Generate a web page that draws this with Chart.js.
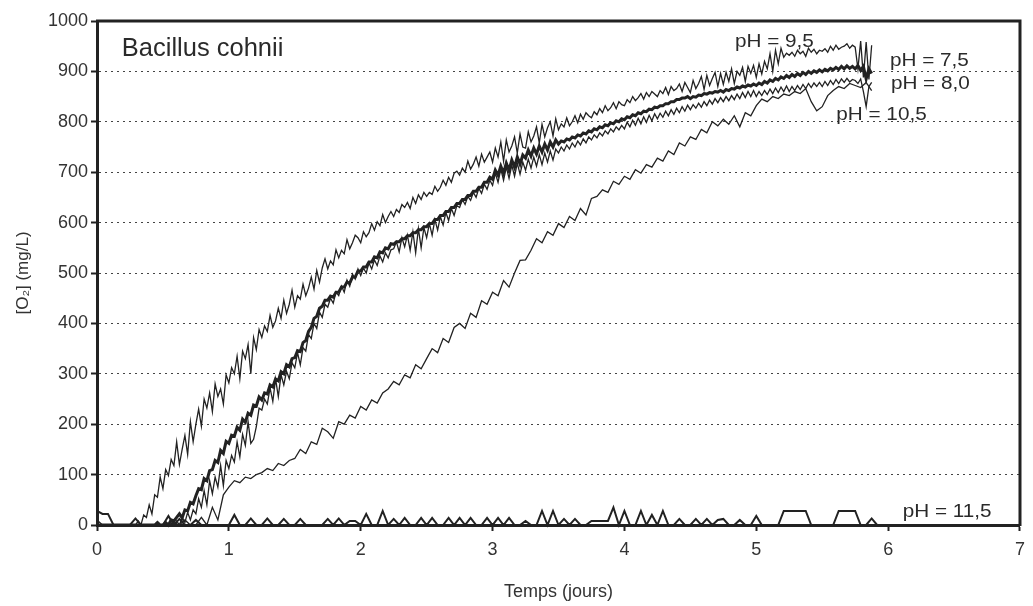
<!DOCTYPE html>
<html>
<head>
<meta charset="utf-8">
<script src="https://cdn.jsdelivr.net/npm/chart.js@4.4.1/dist/chart.umd.min.js"></script>
<style>
  html, body { margin: 0; padding: 0; background: #fff; }
  canvas { display: block; }
</style>
</head>
<body>
<canvas id="o2Chart" width="1033" height="606"></canvas>
<script>
// O2 production of Bacillus cohnii at several pH values.
// Samples: pH 7,5 / 8,0 / 9,5 every 30 min, pH 10,5 / 11,5 every hour.

const X_TICKS = [0, 1, 2, 3, 4, 5, 6, 7];
const Y_TICKS = [0, 100, 200, 300, 400, 500, 600, 700, 800, 900, 1000];

const HALF_HOUR = 1 / 48;   // days
const ONE_HOUR = 1 / 24;

const PH_95 = [
  10, 5, 0, 0, 0, 0, 0, 0, 0, 0, 0, 0,
  0, 0, 0, 8, 0, 20, 15, 40, 22, 60, 55, 95,
  72, 110, 98, 130, 118, 165, 120, 150, 178, 140, 205, 165,
  200, 230, 196, 250, 232, 262, 225, 280, 255, 270, 240, 298,
  282, 312, 300, 335, 290, 345, 330, 358, 300, 372, 348, 388,
  372, 395, 384, 416, 392, 405, 430, 410, 446, 420, 438, 466,
  432, 455, 448, 478, 455, 470, 492, 468, 505, 482, 510, 528,
  508, 524, 516, 546, 530, 545, 538, 566, 548, 560, 575, 570,
  560, 582, 572, 580, 598, 585, 602, 594, 616, 600, 612, 622,
  612, 626, 620, 636, 630, 640, 628, 650, 638, 655, 646, 660,
  652, 660, 656, 672, 662, 670, 684, 674, 690, 680, 698, 702,
  694, 708, 700, 722, 706, 716, 730, 712, 736, 720, 730, 740,
  720, 748, 730, 760, 722, 764, 740, 752, 770, 738, 776, 750,
  748, 780, 760, 772, 790, 758, 795, 770, 788, 800, 772, 806,
  784, 796, 790, 808, 792, 800, 812, 798, 815, 805, 818, 812,
  808, 820, 814, 826, 818, 832, 822, 828, 838, 826, 840, 834,
  832, 844, 838, 850, 842, 848, 856, 845, 858, 850, 860, 855,
  850, 862, 856, 868, 854, 870, 862, 866, 875, 860, 878, 868,
  858, 882, 866, 876, 890, 864, 892, 872, 886, 898, 870, 896,
  874, 898, 880, 905, 876, 900, 892, 908, 880, 910, 896, 912,
  888, 915, 895, 920, 905, 935, 900, 942, 915, 946, 928, 936,
  932, 938, 930, 942, 935, 940, 930, 946, 938, 944, 935, 942,
  940, 945, 938, 950, 942, 952, 944, 948, 950, 955, 946, 952,
  948, 905, 960, 888, 958, 884, 952
];

const PH_75 = [
  0, 0, 0, 0, 0, 0, 0, 0, 0, 0, 0, 0,
  0, 0, 0, 0, 0, 0, 0, 0, 0, 0, 5, 0,
  0, 5, 0, 10, 8, 15, 22, 14, 30, 28, 45, 42,
  58, 72, 70, 92, 88, 108, 110, 128, 124, 148, 142, 166,
  162, 178, 176, 194, 188, 210, 204, 222, 218, 238, 236, 254,
  248, 262, 260, 278, 274, 290, 286, 304, 300, 318, 314, 330,
  332, 346, 344, 362, 366, 384, 392, 410, 414, 430, 434, 446,
  446, 454, 452, 462, 462, 472, 472, 482, 480, 492, 492, 504,
  504, 512, 512, 522, 522, 532, 530, 542, 540, 550, 548, 558,
  557, 562, 562, 568, 568, 574, 574, 580, 580, 586, 586, 592,
  592, 598, 598, 606, 606, 614, 614, 622, 622, 630, 630, 638,
  638, 646, 646, 654, 654, 662, 662, 670, 670, 680, 680, 690,
  686, 704, 694, 712, 698, 718, 704, 724, 710, 730, 716, 734,
  728, 744, 732, 748, 736, 752, 740, 756, 744, 760, 750, 764,
  756, 762, 760, 766, 764, 770, 768, 774, 772, 778, 776, 782,
  780, 786, 784, 790, 788, 794, 792, 798, 796, 802, 800, 806,
  804, 810, 808, 814, 812, 818, 816, 821, 820, 825, 824, 829,
  828, 832, 832, 836, 836, 840, 840, 844, 844, 847, 847, 850,
  846, 850, 849, 853, 852, 856, 855, 858, 857, 860, 859, 862,
  859, 864, 862, 866, 865, 869, 867, 871, 869, 873, 871, 875,
  872, 877, 874, 880, 877, 883, 880, 886, 883, 889, 886, 892,
  888, 894, 890, 896, 892, 898, 894, 900, 896, 901, 898, 903,
  899, 904, 901, 906, 903, 908, 904, 910, 905, 911, 906, 910,
  905, 912, 902, 910, 885, 905, 896
];

const PH_80 = [
  0, 0, 0, 0, 0, 0, 0, 0, 0, 0, 0, 0,
  0, 0, 0, 0, 0, 0, 0, 0, 0, 0, 0, 0,
  0, 0, 0, 0, 0, 8, 0, 15, 5, 25, 10, 30,
  22, 52, 35, 68, 40, 88, 62, 95, 75, 118, 78, 128,
  112, 138, 125, 165, 135, 180, 158, 205, 162, 170, 195, 232,
  228, 250, 240, 272, 245, 290, 255, 298, 278, 305, 290, 322,
  312, 342, 318, 352, 345, 378, 370, 400, 390, 422, 412, 438,
  432, 450, 440, 462, 455, 474, 462, 486, 474, 498, 488, 508,
  495, 510, 500, 520, 508, 526, 515, 534, 522, 540, 530, 546,
  548, 562, 542, 570, 552, 575, 545, 582, 540, 588, 550, 590,
  570, 598, 575, 606, 585, 612, 595, 620, 604, 628, 614, 634,
  630, 646, 636, 652, 644, 660, 650, 668, 658, 676, 666, 684,
  674, 698, 680, 706, 684, 710, 688, 714, 692, 718, 696, 720,
  704, 726, 708, 730, 712, 735, 715, 738, 720, 742, 724, 746,
  738, 750, 742, 754, 746, 758, 750, 762, 754, 766, 758, 770,
  764, 774, 768, 778, 772, 782, 776, 786, 780, 790, 784, 793,
  786, 799, 790, 803, 793, 807, 796, 810, 799, 813, 802, 816,
  806, 817, 809, 821, 812, 824, 815, 827, 818, 830, 821, 833,
  824, 834, 827, 837, 829, 840, 832, 843, 835, 846, 838, 848,
  840, 850, 842, 852, 844, 855, 846, 858, 848, 860, 850, 862,
  850, 860, 852, 862, 854, 865, 856, 867, 858, 869, 860, 871,
  860, 870, 862, 872, 864, 874, 866, 876, 868, 877, 870, 878,
  870, 880, 872, 882, 874, 884, 876, 885, 878, 886, 879, 884,
  882, 876, 885, 860, 830, 870, 878
];

const PH_105 = [
  0, 0, 0, 0, 0, 0,
  0, 0, 0, 0, 0, 0,
  0, 0, 5, 0, 10, 0,
  0, 15, 0, 35, 10, 60,
  75, 88, 84, 95, 92, 100,
  104, 112, 108, 122, 118, 128,
  132, 150, 142, 165, 160, 192,
  185, 172, 205, 200, 218, 212,
  235, 228, 248, 242, 262, 270,
  285, 278, 298, 292, 318, 310,
  330, 350, 342, 370, 362, 392,
  400, 390, 420, 412, 445, 438,
  462, 455, 485, 472, 500, 525,
  526, 545, 568, 560, 582, 575,
  598, 590, 612, 604, 628, 615,
  648, 652, 665, 660, 682, 676,
  692, 686, 705, 698, 715, 710,
  728, 722, 742, 735, 758, 752,
  770, 765, 785, 778, 800, 792,
  805, 795, 812, 790, 818, 812,
  832, 845, 840, 850, 846, 855,
  852, 860, 856, 866, 840, 822,
  830, 852, 862, 870, 866, 876,
  872, 868, 878, 862
];

const PH_115 = [
  28, 22, 22, 0, 0, 0, 0, 13, 0, 0, 0, 0,
  0, 18, 0, 12, 0, 0, 10, 0, 0, 0, 0, 0,
  0, 20, 0, 0, 13, 0, 0, 13, 0, 0, 12, 0,
  0, 12, 0, 0, 0, 0, 12, 0, 13, 0, 8, 8,
  0, 22, 0, 0, 28, 0, 12, 0, 14, 0, 0, 14,
  0, 14, 0, 0, 14, 0, 14, 0, 14, 0, 0, 14,
  0, 14, 0, 14, 0, 0, 8, 0, 0, 28, 0, 28,
  0, 12, 0, 12, 0, 0, 8, 8, 8, 8, 35, 0,
  28, 0, 0, 28, 0, 20, 0, 28, 0, 0, 12, 0,
  0, 12, 0, 12, 0, 10, 12, 0, 0, 10, 0, 0,
  18, 0, 0, 0, 0, 28, 28, 28, 28, 28, 0, 0,
  0, 0, 0, 28, 28, 28, 28, 0, 0, 13, 0
];

const INK = "#222222";
const FONT = "'Liberation Sans', Arial, Helvetica, sans-serif";

// text placed in the plot, anchored in data units (left / baseline)
const NOTES = [
  { text: "Bacillus cohnii", x: 0.188, y: 931, size: 25.5, stretch: 1 },
  { text: "pH = 9,5", x: 4.838, y: 948, size: 18, stretch: 1.15 },
  { text: "pH = 7,5", x: 6.014, y: 911, size: 18, stretch: 1.15 },
  { text: "pH = 8,0", x: 6.021, y: 865, size: 18, stretch: 1.15 },
  { text: "pH = 10,5", x: 5.607, y: 803, size: 18, stretch: 1.15 },
  { text: "pH = 11,5", x: 6.111, y: 16, size: 18, stretch: 1.15 },
];

function toPoints(values, step) {
  return values.map((v, i) => ({ x: i * step, y: v }));
}

function series(label, values, step, width) {
  return {
    label,
    data: toPoints(values, step),
    borderColor: INK,
    backgroundColor: INK,
    borderWidth: width,
    pointRadius: 0,
    tension: 0,
    fill: false,
    clip: false,
  };
}

const framePlugin = {
  id: "frame",
  afterDraw(chart) {
    const { ctx, chartArea: a, scales } = chart;
    ctx.save();
    // top and right edges of the box
    ctx.strokeStyle = INK;
    ctx.lineWidth = 3;
    ctx.beginPath();
    ctx.moveTo(a.left - 1, a.top);
    ctx.lineTo(a.right, a.top);
    ctx.lineTo(a.right, a.bottom + 1);
    ctx.stroke();

    ctx.fillStyle = "#2a2a2a";
    ctx.textBaseline = "alphabetic";
    ctx.textAlign = "left";
    for (const n of NOTES) {
      const px = scales.x.getPixelForValue(n.x);
      const py = scales.y.getPixelForValue(n.y);
      ctx.save();
      ctx.translate(px, py);
      ctx.scale(n.stretch, 1);
      ctx.font = `${n.size}px ${FONT}`;
      ctx.fillText(n.text, 0, 0);
      ctx.restore();
    }
    ctx.restore();
  }
};

Chart.defaults.font.family = FONT;
Chart.defaults.color = "#333";

new Chart(document.getElementById("o2Chart").getContext("2d"), {
  type: "line",
  data: {
    datasets: [
      series("pH = 11,5", PH_115, ONE_HOUR, 2),
      series("pH = 10,5", PH_105, ONE_HOUR, 1.3),
      series("pH = 9,5", PH_95, HALF_HOUR, 1.3),
      series("pH = 8,0", PH_80, HALF_HOUR, 1.3),
      series("pH = 7,5", PH_75, HALF_HOUR, 3),
    ]
  },
  options: {
    responsive: false,
    devicePixelRatio: 1,
    animation: false,
    layout: { padding: { top: 21, right: 7, left: 0, bottom: 0 } },
    plugins: { legend: { display: false }, tooltip: { enabled: false } },
    scales: {
      x: {
        type: "linear",
        min: X_TICKS[0],
        max: X_TICKS[X_TICKS.length - 1],
        afterBuildTicks: (s) => { s.ticks = X_TICKS.map(v => ({ value: v })); },
        afterFit: (s) => { s.height = 81; },
        ticks: { font: { size: 18 }, padding: 8, maxRotation: 0, color: "#333", callback: (v) => String(v) },
        grid: { drawOnChartArea: false, drawTicks: true, tickLength: 6, tickColor: INK, tickWidth: 2 },
        border: { display: true, color: INK, width: 3 },
        title: { display: true, text: "Temps (jours)", font: { size: 18 }, color: "#333", padding: { top: 0, bottom: 3 } }
      },
      y: {
        min: Y_TICKS[0],
        max: Y_TICKS[Y_TICKS.length - 1],
        afterBuildTicks: (s) => { s.ticks = Y_TICKS.map(v => ({ value: v })); },
        afterFit: (s) => { s.width = 97; },
        ticks: { font: { size: 18 }, padding: 3, color: "#333", callback: (v) => String(v) },
        grid: {
          color: (c) => (c.tick && (c.tick.value === 0 || c.tick.value === 1000)) ? "rgba(0,0,0,0)" : "#444",
          lineWidth: 1,
          tickLength: 6,
          tickColor: INK,
          tickWidth: 2
        },
        border: { display: true, color: INK, width: 3, dash: [2, 4] },
        title: { display: true, text: "[O₂] (mg/L)", font: { size: 17 }, color: "#333", padding: { top: 13, bottom: 0 } }
      }
    }
  },
  plugins: [framePlugin]
});
</script>
</body>
</html>
